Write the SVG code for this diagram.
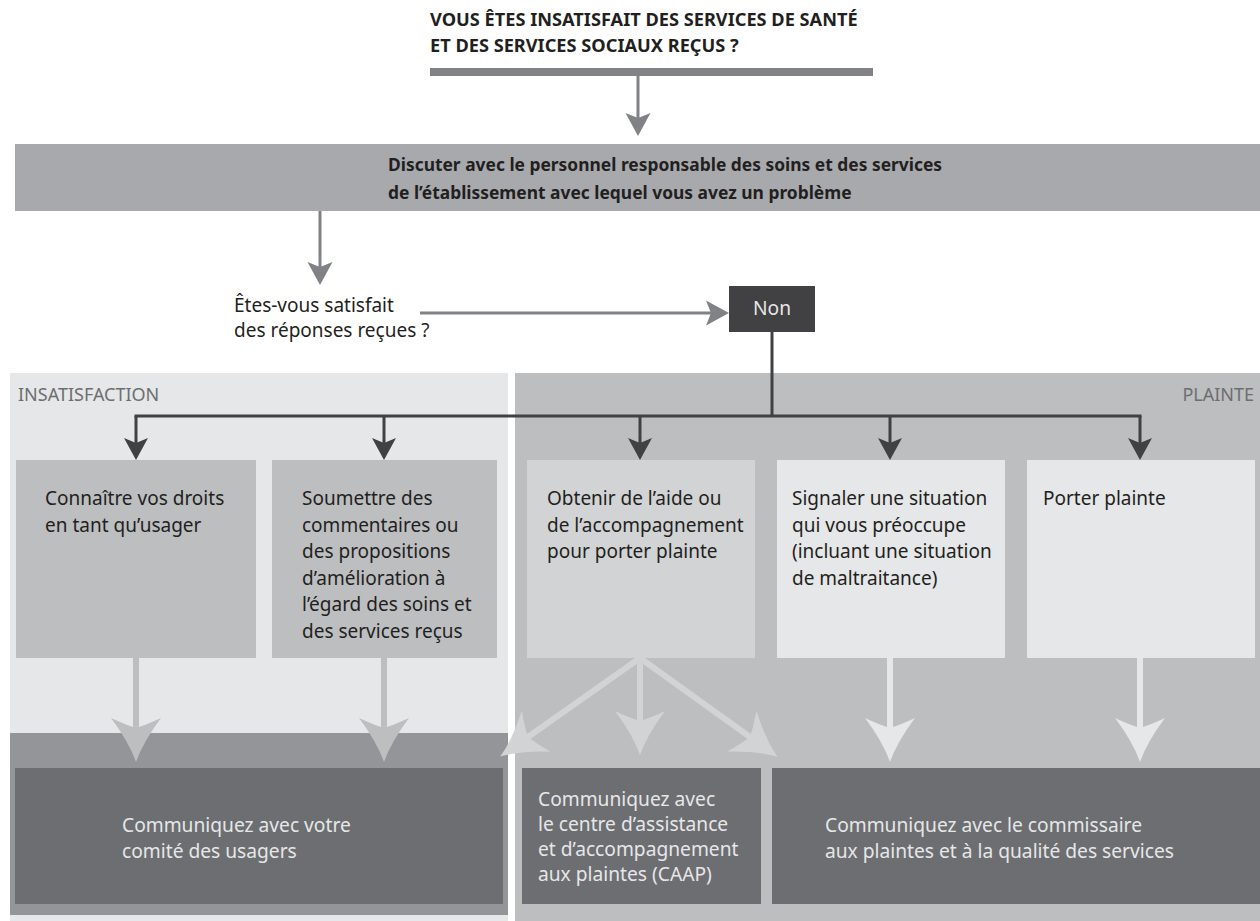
<svg xmlns="http://www.w3.org/2000/svg" width="1260" height="921" viewBox="0 0 1260 921">
<defs>
<style>
text{font-family:"Noto Sans","Open Sans","Liberation Sans",sans-serif;}
.hb{font-weight:bold;font-size:18.2px;fill:#231f20;}
.bb{font-weight:bold;font-size:17.4px;fill:#231f20;}
.t{font-size:19px;fill:#231f20;}
.w{font-size:19.2px;fill:#e6e7e8;}
.lab{font-size:18px;fill:#6d6e71;}
.gl{stroke:#808285;stroke-width:3;fill:none;}
.dl{stroke:#414042;stroke-width:3;fill:none;}
.la{stroke:#bcbec0;stroke-width:6;}
.lb{stroke:#d1d3d4;stroke-width:6;}
.lc{stroke:#e6e7e8;stroke-width:6;}
</style>
<marker id="hg" markerUnits="userSpaceOnUse" markerWidth="30" markerHeight="30" viewBox="0 -15 30 30" refX="5" refY="0" orient="auto">
<path d="M23,0 L0,-12.5 L5,0 L0,12.5 Z" fill="#808285"/>
</marker>
<marker id="hd" markerUnits="userSpaceOnUse" markerWidth="30" markerHeight="30" viewBox="0 -15 30 30" refX="5" refY="0" orient="auto">
<path d="M22,0 L0,-12 L5,0 L0,12 Z" fill="#414042"/>
</marker>
<marker id="la" markerUnits="userSpaceOnUse" markerWidth="60" markerHeight="60" viewBox="0 -30 60 60" refX="10" refY="0" orient="auto">
<path d="M44,0 Q24,-7 0,-25 Q7,-10 10,0 Q7,10 0,25 Q24,7 44,0 Z" fill="#bcbec0"/>
</marker>
<marker id="lb" markerUnits="userSpaceOnUse" markerWidth="60" markerHeight="60" viewBox="0 -30 60 60" refX="10" refY="0" orient="auto">
<path d="M44,0 Q24,-7 0,-25 Q7,-10 10,0 Q7,10 0,25 Q24,7 44,0 Z" fill="#d1d3d4"/>
</marker>
<marker id="lc" markerUnits="userSpaceOnUse" markerWidth="60" markerHeight="60" viewBox="0 -30 60 60" refX="10" refY="0" orient="auto">
<path d="M44,0 Q24,-7 0,-25 Q7,-10 10,0 Q7,10 0,25 Q24,7 44,0 Z" fill="#e6e7e8"/>
</marker>
</defs>
<rect width="1260" height="921" fill="#ffffff"/>

<g id="zone-insatisfaction">
<rect x="10" y="373" width="498" height="548" fill="#e6e7e8"/>
<rect x="10" y="733" width="498" height="182" fill="#939598"/>
<text class="lab" x="18" y="401">INSATISFACTION</text>
</g>
<g id="zone-plainte">
<rect x="515" y="373" width="745" height="548" fill="#bcbec0"/>
<text class="lab" x="1254" y="401" text-anchor="end">PLAINTE</text>
</g>

<g id="header">
<text class="hb" x="430" y="26">VOUS ÊTES INSATISFAIT DES SERVICES DE SANTÉ</text>
<text class="hb" x="430" y="52">ET DES SERVICES SOCIAUX REÇUS ?</text>
<rect x="430" y="68" width="443" height="8" fill="#808285"/>
</g>

<g id="discuter">
<rect x="15" y="144" width="1245" height="67" fill="#a7a9ac"/>
<text class="bb" x="388" y="171">Discuter avec le personnel responsable des soins et des services</text>
<text class="bb" x="388" y="199">de l’établissement avec lequel vous avez un problème</text>
</g>

<g id="question">
<text class="t" x="234" y="312">Êtes-vous satisfait</text>
<text class="t" x="234" y="337">des réponses reçues ?</text>
</g>

<g id="non">
<rect x="729" y="286" width="86" height="46" fill="#414042"/>
<text class="w" x="772" y="315" text-anchor="middle">Non</text>
</g>

<g id="box-droits">
<rect x="16" y="460" width="240" height="198" fill="#bcbec0"/>
<text class="t" x="45" y="505">Connaître vos droits</text>
<text class="t" x="45" y="531.5">en tant qu’usager</text>
</g>
<g id="box-soumettre">
<rect x="272" y="460" width="225" height="198" fill="#bcbec0"/>
<text class="t" x="302" y="505">Soumettre des</text>
<text class="t" x="302" y="531.5">commentaires ou</text>
<text class="t" x="302" y="558">des propositions</text>
<text class="t" x="302" y="584.5">d’amélioration à</text>
<text class="t" x="302" y="611">l’égard des soins et</text>
<text class="t" x="302" y="637.5">des services reçus</text>
</g>
<g id="box-aide">
<rect x="527" y="460" width="228" height="198" fill="#d1d3d4"/>
<text class="t" x="547" y="505">Obtenir de l’aide ou</text>
<text class="t" x="547" y="531.5">de l’accompagnement</text>
<text class="t" x="547" y="558">pour porter plainte</text>
</g>
<g id="box-signaler">
<rect x="777" y="460" width="228" height="198" fill="#e6e7e8"/>
<text class="t" x="792" y="505">Signaler une situation</text>
<text class="t" x="792" y="531.5">qui vous préoccupe</text>
<text class="t" x="792" y="558">(incluant une situation</text>
<text class="t" x="792" y="584.5">de maltraitance)</text>
</g>
<g id="box-porter">
<rect x="1027" y="460" width="228" height="198" fill="#e6e7e8"/>
<text class="t" x="1043" y="505">Porter plainte</text>
</g>

<g id="out-comite">
<rect x="15" y="768" width="488" height="136" fill="#6d6e71"/>
<text class="w" x="122" y="832">Communiquez avec votre</text>
<text class="w" x="122" y="858">comité des usagers</text>
</g>
<g id="out-caap">
<rect x="522" y="768" width="239" height="136" fill="#6d6e71"/>
<text class="w" x="538" y="806">Communiquez avec</text>
<text class="w" x="538" y="831">le centre d’assistance</text>
<text class="w" x="538" y="856">et d’accompagnement</text>
<text class="w" x="538" y="881">aux plaintes (CAAP)</text>
</g>
<g id="out-commissaire">
<rect x="772" y="768" width="488" height="136" fill="#6d6e71"/>
<text class="w" x="825" y="832">Communiquez avec le commissaire</text>
<text class="w" x="825" y="858">aux plaintes et à la qualité des services</text>
</g>

<g id="connectors">
<line class="gl" x1="638" y1="76" x2="638" y2="118" marker-end="url(#hg)"/>
<line class="gl" x1="320" y1="211" x2="320" y2="267" marker-end="url(#hg)"/>
<line class="gl" x1="420" y1="313" x2="711" y2="313" marker-end="url(#hg)"/>
<line class="dl" x1="772" y1="332" x2="772" y2="416"/>
<line class="dl" x1="134.5" y1="416" x2="1141.5" y2="416"/>
<line class="dl" x1="136" y1="416" x2="136" y2="443" marker-end="url(#hd)"/>
<line class="dl" x1="384" y1="416" x2="384" y2="443" marker-end="url(#hd)"/>
<line class="dl" x1="640" y1="416" x2="640" y2="443" marker-end="url(#hd)"/>
<line class="dl" x1="890" y1="416" x2="890" y2="443" marker-end="url(#hd)"/>
<line class="dl" x1="1140" y1="416" x2="1140" y2="443" marker-end="url(#hd)"/>
<line class="la" x1="136" y1="658" x2="136" y2="728" marker-end="url(#la)"/>
<line class="la" x1="384" y1="658" x2="384" y2="728" marker-end="url(#la)"/>
<line class="lb" x1="640" y1="658" x2="640" y2="721" marker-end="url(#lb)"/>
<line class="lb" x1="640" y1="658" x2="528" y2="737" marker-end="url(#lb)"/>
<line class="lb" x1="640" y1="658" x2="750" y2="737" marker-end="url(#lb)"/>
<line class="lc" x1="890" y1="658" x2="890" y2="728" marker-end="url(#lc)"/>
<line class="lc" x1="1140" y1="658" x2="1140" y2="728" marker-end="url(#lc)"/>
</g>
</svg>
